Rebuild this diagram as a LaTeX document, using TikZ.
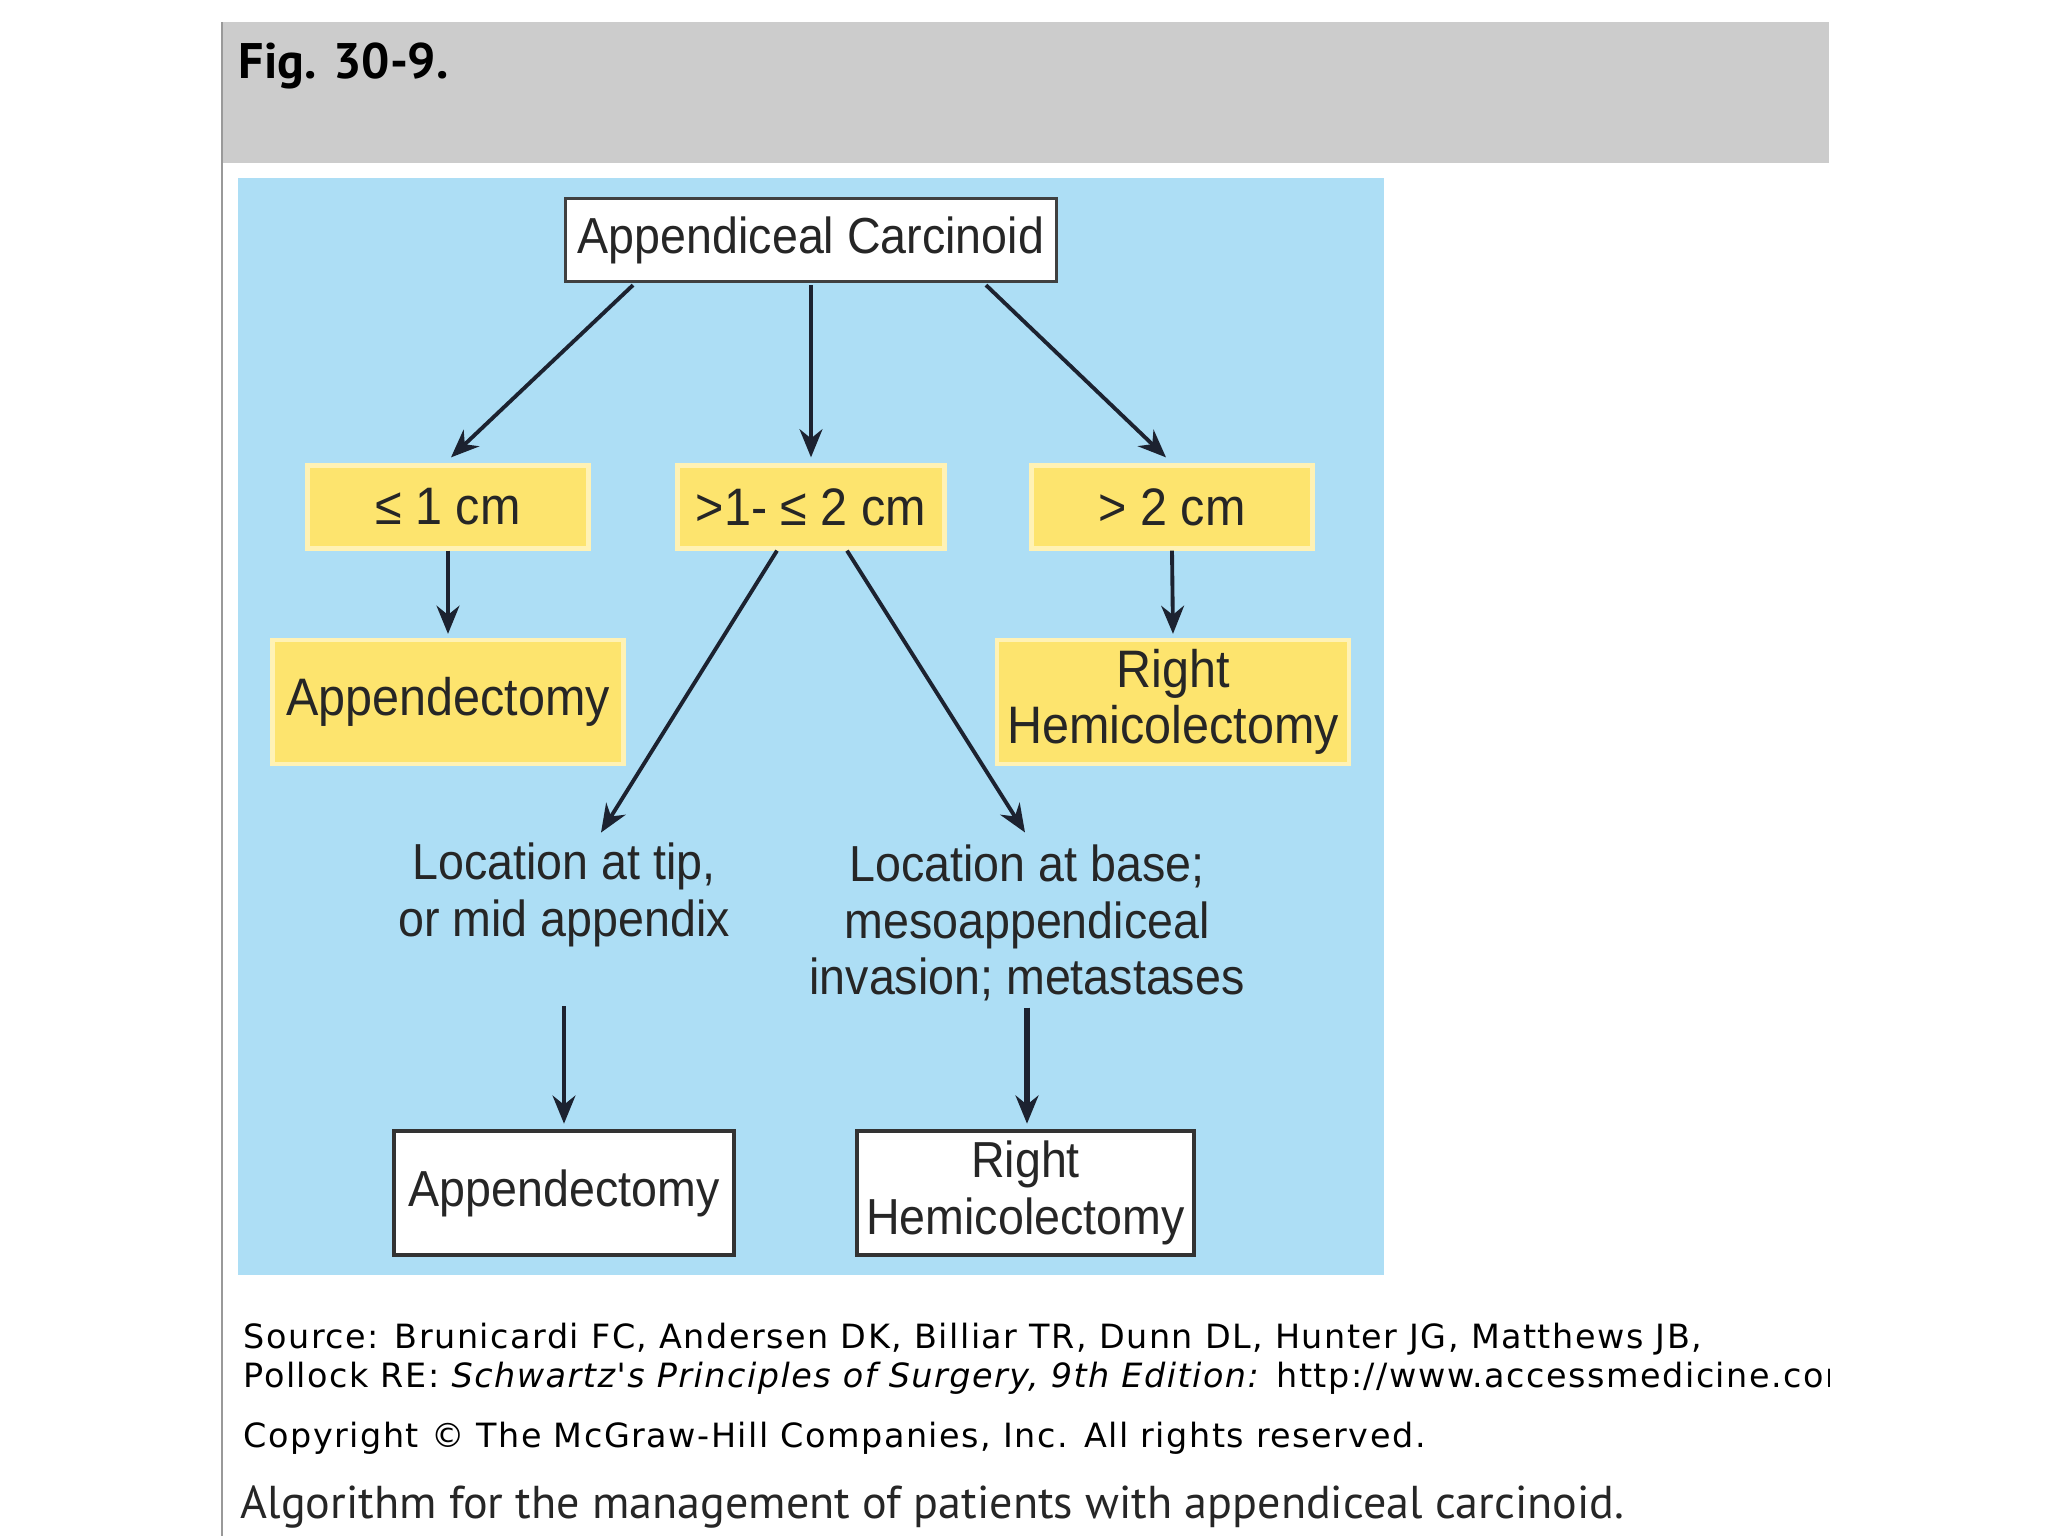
\documentclass[tikz,border=0pt]{standalone}
\usepackage{fontspec}
\usepackage{tikz}
\usetikzlibrary{calc}
\usetikzlibrary{arrows.meta}
\newfontfamily\diagfont[FakeStretch=0.92]{Liberation Sans}
\newfontfamily\srcfont[LetterSpace=4.5]{DejaVu Sans}
\newfontfamily\capfont{PT Sans}
\definecolor{hdrgray}{HTML}{CCCCCC}
\definecolor{panel}{HTML}{ADDEF5}
\definecolor{ylw}{HTML}{FDE46E}
\definecolor{ylwedge}{HTML}{FFF2B5}
\definecolor{arrowcol}{HTML}{1C2230}

\begin{document}
\begin{tikzpicture}[x=0.01cm,y=-0.01cm,
  txt/.style={font=\diagfont\fontsize{14.4}{16}\selectfont, text=black!85, align=center, inner sep=0pt},
  topbox/.style={txt, draw=black!75, fill=white, line width=0.9pt, minimum width=4.91cm, minimum height=0.83cm},
  ybox/.style={txt, font=\diagfont\fontsize{15}{16}\selectfont, fill=ylw, draw=ylwedge, line width=1.2pt},
  wbox/.style={txt, draw=black!80, fill=white, line width=1.3pt, minimum height=1.24cm},
  arr/.style={-{Stealth[length=8pt,width=6.5pt]}, line width=1.1pt, draw=arrowcol},
  foot/.style={anchor=base west, inner sep=0pt, font=\srcfont\fontsize{9.5}{11}\selectfont}]

\useasboundingbox (0,0) rectangle (2048,1536);
\fill[white] (0,0) rectangle (2048,1536);

% header and frame
\fill[hdrgray] (222,22) rectangle (1829,163);
\draw[black!40, line width=0.6pt] (222,22) -- (222,1536);
\node[anchor=base west, inner sep=0pt, font=\capfont\bfseries\fontsize{14.2}{16}\selectfont] (fig) at (238,78) {Fig. 30-9.};

% blue panel
\fill[panel] (238,178) rectangle (1384,1275);

\coordinate (c_top) at (811,240);
\coordinate (c_le) at (448,507);
\coordinate (c_mid) at ($(c_top)+(0,267)$);
\coordinate (c_gt) at (1172,507);
\coordinate (c_app) at ($(c_le)+(0,195)$);
\coordinate (c_rh) at ($(c_gt)+(1,195)$);

\node[topbox] (top) at (c_top) {Appendiceal Carcinoid};

\node[ybox, minimum width=2.81cm, minimum height=0.83cm] (le1) at (c_le) {≤ 1 cm};
\node[ybox, minimum width=2.67cm, minimum height=0.83cm] (mid) at (c_mid) {>1- ≤ 2 cm};
\node[ybox, minimum width=2.81cm, minimum height=0.83cm] (gt2) at (c_gt) {> 2 cm};

\node[ybox, minimum width=3.51cm, minimum height=1.24cm] (app1) at (c_app) {Appendectomy};
\node[ybox, minimum width=3.52cm, minimum height=1.24cm] (rh1) at (c_rh) {Right\\Hemicolectomy};

%\node[txt] (tip) at (564,893) {Location at tip};
\node[txt] (tip) at (564,895) {Location at tip,\\or mid appendix};
\node[txt] (base) at (1027,923) {Location at base;\\mesoappendiceal\\invasion; metastases};

\node[wbox, minimum width=3.40cm] (app2) at (564,1193) {Appendectomy};
\node[wbox, minimum width=3.37cm] (rh2) at (1025.5,1193) {Right\\Hemicolectomy};

% arrows
\draw[arr] ($(top.south)+(-178,2)$) -- ($(le1.north)+(3,-6)$);
\draw[arr] ($(top.south)+(0,2)$) -- ($(mid.north)+(0,-6)$);
\draw[arr] ($(top.south)+(175,2)$) -- ($(gt2.north)+(-6,-6)$);

\draw[arr] (le1.south) -- ($(app1.north)+(0,-4)$);
\draw[arr] (gt2.south) -- ($(rh1.north)+(0,-4)$);

\draw[arr] ($(mid.south)+(-34,0)$) -- ($(tip.north)+(37,-10)$);
\draw[arr] ($(mid.south)+(36,0)$) -- ($(base.north)+(-2,-12)$);

\draw[arr] ($(tip.south)+(0,59)$) -- ($(app2.north)+(0,-5)$);
\draw[arr, line width=1.6pt] ($(base.south)+(0,6)$) -- ($(rh2.north)+(1.5,-5)$);

% source lines
\begin{scope}
\clip (222,1290) rectangle (1829,1536);
\node[foot] (src1) at (243,1348) {Source: Brunicardi FC, Andersen DK, Billiar TR, Dunn DL, Hunter JG, Matthews JB,};
\node[foot] (src2) at (243,1387) {Pollock RE: \textit{Schwartz's Principles of Surgery, 9th Edition:} http://www.accessmedicine.com};
\node[foot] (copy) at (243,1447) {Copyright © The McGraw-Hill Companies, Inc. All rights reserved.};
\end{scope}
\node[anchor=base west, inner sep=0pt, font=\capfont\fontsize{13.1}{15}\selectfont, text=black!85] (cap) at (240,1518) {Algorithm for the management of patients with appendiceal carcinoid.};

\end{tikzpicture}
\end{document}
